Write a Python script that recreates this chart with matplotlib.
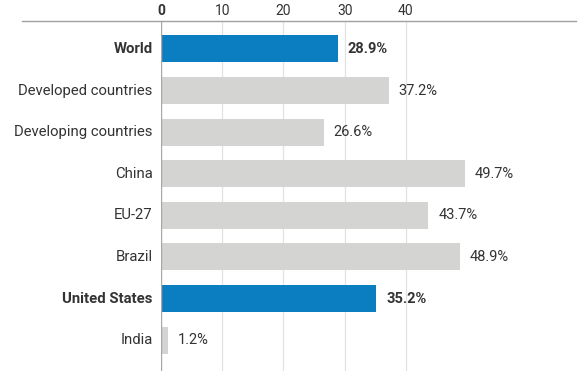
import matplotlib.pyplot as plt
from matplotlib.lines import Line2D

# share values (percent)
categories = ["World", "Developed countries", "Developing countries", "China",
              "EU-27", "Brazil", "United States", "India"]
values = [28.9, 37.2, 26.6, 49.7, 43.7, 48.9, 35.2, 1.2]
highlight = ["World", "United States"]
ticks = [0, 10, 20, 30, 40]

plt.rcParams['font.family'] = ['Roboto', 'DejaVu Sans']

W, H = 585, 371
fig = plt.figure(figsize=(W / 100, H / 100), dpi=100)
fig.patch.set_facecolor("white")

# axes from x=0 line to right edge, top line down to the bottom
ax = fig.add_axes([161 / W, 0, (576 - 161) / W, 1 - 21 / H])
ax.set_xlim(0, 67.8)
ax.set_ylim(7.74, -0.67)

blue = "#0b7dc1"
gray = "#d4d4d2"
colors = [blue if c in highlight else gray for c in categories]
ypos = list(range(len(categories)))
ax.barh(ypos, values, height=0.65, color=colors, zorder=2)

# grid
for t in ticks[1:]:
    ax.axvline(t, color="#e2e2e2", lw=0.9, zorder=1)
ax.axvline(0, color="#a8a8a8", lw=1.0, zorder=3)

for s in ax.spines.values():
    s.set_visible(False)
ax.set_xticks([])
ax.set_yticks([])

# top tick labels
for t in ticks:
    ax.text(t, -0.74, str(t), ha="center", va="bottom",
            fontsize=10, color="#333333", fontweight="bold" if t == 0 else "normal",
            clip_on=False)

for y, c, v in zip(ypos, categories, values):
    bold = c in highlight
    ax.text(-1.4, y, c, ha="right", va="center", fontsize=10.7, color="#333333",
            fontweight="bold" if bold else "normal", clip_on=False)
    ax.text(v + 1.6, y, f"{v}%", ha="left", va="center", fontsize=10.5,
            color="#333333", fontweight="bold" if bold else "normal")

# top rule across the figure
fig.add_artist(Line2D([22 / W, 576 / W], [1 - 21 / H, 1 - 21 / H],
                      color="#a0a0a0", lw=1.0, transform=fig.transFigure))

fig.savefig("out.png", dpi=100, facecolor="white")
